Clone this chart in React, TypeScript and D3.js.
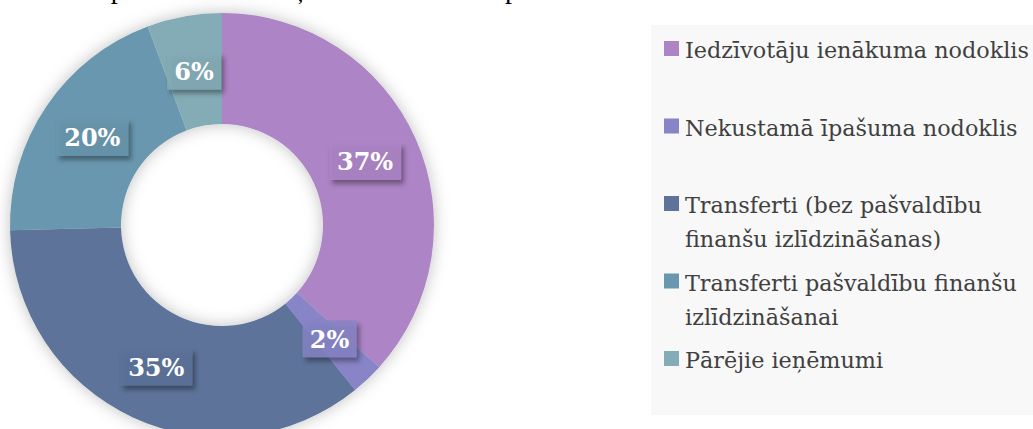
import React from "react";
import * as d3 from "d3";

const categories = [
  "Iedzīvotāju ienākuma nodoklis",
  "Nekustamā īpašuma nodoklis",
  "Transferti (bez pašvaldību finanšu izlīdzināšanas)",
  "Transferti pašvaldību finanšu izlīdzināšanai",
  "Pārējie ieņēmumi",
];
const legendLines = [
  ["Iedzīvotāju ienākuma nodoklis"],
  ["Nekustamā īpašuma nodoklis"],
  ["Transferti (bez pašvaldību", "finanšu izlīdzināšanas)"],
  ["Transferti pašvaldību finanšu", "izlīdzināšanai"],
  ["Pārējie ieņēmumi"],
];
const values = [36.7, 2.5, 35.4, 19.7, 5.7];
const labels = ["37%", "2%", "35%", "20%", "6%"];
const colors = ["#AD84C6", "#8784C7", "#5D739A", "#6997AF", "#84ACB6"];
const title = "Pašvaldības pamatbudžeta ieņēmumu struktūra pa veidiem";

export default function App() {
  const W = 1033, H = 429;
  const cx = 222, cy = 225, rOuter = 212, rInner = 101;
  const pie = d3.pie<number>().sort(null).value((d) => d)(values);
  const arc = d3.arc<d3.PieArcDatum<number>>().innerRadius(rInner).outerRadius(rOuter);
  const serif = "'DejaVu Serif', serif";
  const legendX = 664;
  const legendY0 = 58;
  const legendStep = 77.5;
  const lineH = 34;
  return (
    <svg width={W} height={H} style={{ position: "absolute", left: 0, top: 0 }}>
      <defs>
        <filter id="donutShadow" x="-20%" y="-20%" width="140%" height="140%">
          <feDropShadow dx="0" dy="0" stdDeviation="8" floodColor="#000" floodOpacity="0.25" />
        </filter>
        <filter id="boxShadow" x="-30%" y="-30%" width="160%" height="160%">
          <feDropShadow dx="3" dy="4" stdDeviation="2.5" floodColor="#000" floodOpacity="0.45" />
        </filter>
      </defs>
      <rect width={W} height={H} fill="#ffffff" />
      <text x={300} y={-2} textAnchor="middle" fontFamily="'Liberation Serif', serif" fontSize={28} fill="#000">
        {title}
      </text>
      <g transform={`translate(${cx},${cy})`}>
        <g filter="url(#donutShadow)">
          {pie.map((p, i) => (
            <path key={i} d={arc(p) || ""} fill={colors[i]} />
          ))}
        </g>
        {pie.map((p, i) => {
          const [lx, ly] = arc.centroid(p);
          const w = labels[i].length === 2 ? 54 : 72;
          const h = 37;
          return (
            <g key={"l" + i} transform={`translate(${lx},${ly})`}>
              <rect x={-w / 2} y={-h / 2} width={w} height={h} fill={colors[i]} fillOpacity={0.8} filter="url(#boxShadow)" />
              <text x={0} y={9} textAnchor="middle" fontFamily={serif} fontWeight="bold" fontSize={24} fill="#fff">
                {labels[i]}
              </text>
            </g>
          );
        })}
      </g>
      <rect x={651} y={25} width={W - 651} height={390} fill="#f8f8f8" />
      {legendLines.map((lines, i) => {
        const by = legendY0 + i * legendStep;
        return (
          <g key={"lg" + i}>
            <title>{categories[i]}</title>
            <rect x={legendX} y={by - 17} width={15} height={15} fill={colors[i]} />
            {lines.map((ln, j) => (
              <text key={j} x={685} y={by + j * lineH} fontFamily={serif} fontSize={22.3} fill="#404040">
                {ln}
              </text>
            ))}
          </g>
        );
      })}
    </svg>
  );
}
